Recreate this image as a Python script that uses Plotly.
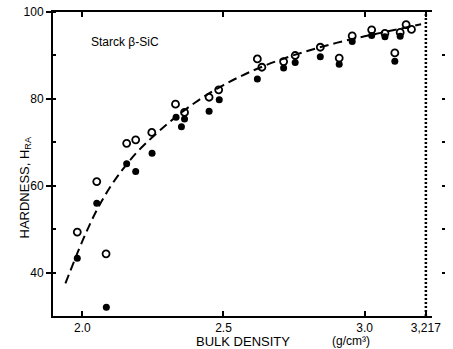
import plotly.graph_objects as go

# ---- data ----
open_density = [1.982, 2.051, 2.084, 2.157, 2.189, 2.246, 2.330, 2.362, 2.449, 2.483,
                2.620, 2.636, 2.713, 2.754, 2.843, 2.910, 2.956, 3.025, 3.072, 3.107,
                3.126, 3.147, 3.166]
open_hardness = [49.4, 61.0, 44.4, 69.8, 70.6, 72.3, 78.8, 76.9, 80.4, 82.1,
                 89.2, 87.3, 88.6, 90.0, 91.9, 89.4, 94.5, 95.9, 95.1, 90.6,
                 95.3, 97.1, 96.0]

filled_density = [1.982, 2.051, 2.085, 2.157, 2.189, 2.247, 2.332, 2.362, 2.351, 2.449,
                  2.485, 2.620, 2.713, 2.754, 2.843, 2.910, 2.956, 3.025, 3.072, 3.107,
                  3.126]
filled_hardness = [43.4, 56.0, 32.1, 65.1, 63.3, 67.5, 75.8, 75.4, 73.6, 77.2,
                   79.8, 84.6, 87.1, 88.4, 89.7, 88.0, 93.2, 94.6, 94.3, 88.7,
                   94.4]

curve_density = [1.94, 2.00, 2.05, 2.10, 2.15, 2.20, 2.30, 2.40, 2.50, 2.60,
                 2.70, 2.80, 2.90, 3.00, 3.10, 3.20]
curve_hardness = [37.6, 47.3, 54.3, 59.9, 64.4, 68.2, 74.2, 79.2, 83.2, 86.4,
                  89.0, 91.1, 92.9, 94.4, 95.8, 97.2]

theoretical_density = 3.217
x_tick_vals = [2.0, 2.5, 3.0, 3.217]
x_tick_text = ["2.0", "2.5", "3.0", "3,217"]
y_tick_vals = [40, 60, 80, 100]
y_tick_text = ["40", "60", "80", "100"]
right_tick_vals = [40, 50, 60, 70, 80, 90]

FONT = "Liberation Sans, Arial, sans-serif"

fig = go.Figure()

fig.add_trace(go.Scatter(
    x=curve_density, y=curve_hardness, mode="lines",
    line=dict(color="black", width=2, dash="9px,5px", shape="spline"),
    hoverinfo="skip", showlegend=False))

fig.add_trace(go.Scatter(
    x=filled_density, y=filled_hardness, mode="markers",
    marker=dict(symbol="circle", size=7, color="black"),
    showlegend=False))

fig.add_trace(go.Scatter(
    x=open_density, y=open_hardness, mode="markers",
    marker=dict(symbol="circle-open", size=7, color="black", line=dict(width=1.8, color="black")),
    showlegend=False))

# invisible trace to carry the right-hand tick axis
fig.add_trace(go.Scatter(x=[None], y=[None], yaxis="y2", showlegend=False, hoverinfo="skip"))

fig.add_vline(x=theoretical_density, line=dict(color="black", width=2.5, dash="2px,2px"))

fig.add_annotation(x=2.152, y=93.2, xref="x", yref="y", text="Starck β-SiC",
                   showarrow=False, font=dict(family=FONT, size=12, color="black"))

fig.add_annotation(x=0, y=(316 - 188) / 304, xref="paper", yref="paper", xshift=-39,
                   text="HARDNESS, H<sub>RA</sub>", textangle=-90, showarrow=False,
                   font=dict(family=FONT, size=13, color="black"))

fig.add_annotation(x=(247.5 - 53) / 397, y=0, xref="paper", yref="paper", yshift=-25,
                   text="BULK DENSITY", showarrow=False, yanchor="middle",
                   font=dict(family=FONT, size=13, color="black"))
fig.add_annotation(x=(379 - 53) / 397, y=0, xref="paper", yref="paper", yshift=-25,
                   text="(g/cm³)", showarrow=False, yanchor="middle",
                   font=dict(family=FONT, size=12, color="black"))

fig.update_layout(
    width=453, height=349,
    margin=dict(l=53, r=3, t=12, b=33),
    paper_bgcolor="white", plot_bgcolor="white",
    font=dict(family=FONT, size=12, color="black"),
    xaxis=dict(
        domain=[0, 0.977], range=[1.896, 3.239],
        tickvals=x_tick_vals, ticktext=x_tick_text,
        ticks="inside", ticklen=5, tickwidth=1.5, tickcolor="black",
        showline=True, linecolor="black", linewidth=2, mirror="ticks",
        showgrid=False, zeroline=False,
        tickfont=dict(family=FONT, size=12, color="black"),
    ),
    yaxis=dict(
        range=[30.1, 100], tickvals=y_tick_vals, ticktext=y_tick_text,
        ticks="outside", ticklen=5, tickwidth=1.5, tickcolor="black",
        minor=dict(dtick=10, tick0=0, ticks="inside", ticklen=3, tickcolor="black"),
        showline=True, linecolor="black", linewidth=2,
        showgrid=False, zeroline=False,
        tickfont=dict(family=FONT, size=12, color="black"),
    ),
    yaxis2=dict(
        overlaying="y", anchor="free", position=1.0, side="right",
        range=[30.1, 100], tickvals=right_tick_vals, showticklabels=False,
        ticks="outside", ticklen=3, tickwidth=2, tickcolor="black",
        showline=False, showgrid=False, zeroline=False,
    ),
)

fig.write_html("out.html")
